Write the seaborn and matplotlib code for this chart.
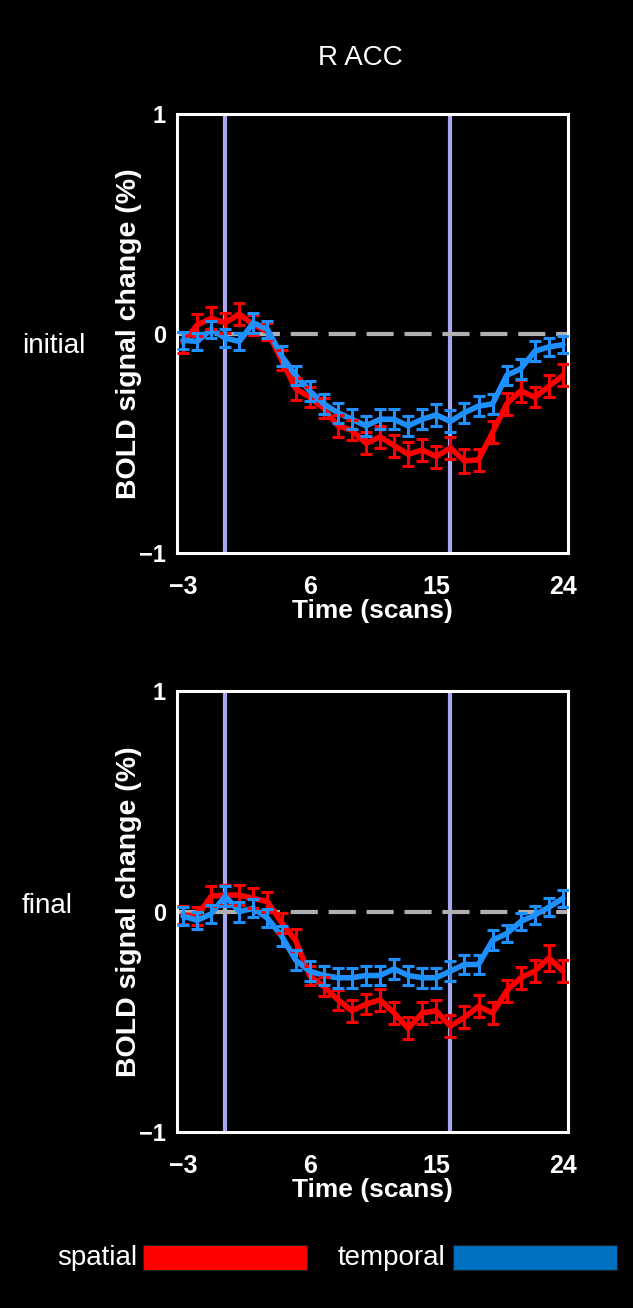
import matplotlib.pyplot as plt
import seaborn as sns
import numpy as np
import pandas as pd
from matplotlib.patches import Rectangle

# scans relative to block onset
scans = list(range(-3, 25))
onset, offset = 0, 16

# initial runs
init_spatial = [-0.04, 0.04, 0.07, 0.05, 0.09, 0.04, 0.01, -0.12, -0.25, -0.29,
                -0.34, -0.42, -0.44, -0.50, -0.47, -0.51, -0.55, -0.53, -0.56, -0.52,
                -0.58, -0.575, -0.45, -0.32, -0.26, -0.29, -0.24, -0.19]
init_spatial_err = [0.05, 0.05, 0.05, 0.045, 0.05, 0.045, 0.04, 0.045, 0.05, 0.045,
                    0.045, 0.05, 0.045, 0.05, 0.05, 0.05, 0.055, 0.05, 0.05, 0.05,
                    0.055, 0.05, 0.05, 0.05, 0.05, 0.045, 0.05, 0.05]
init_temporal = [-0.03, -0.035, 0.02, -0.02, -0.035, 0.05, 0.02, -0.10, -0.19, -0.26,
                 -0.32, -0.36, -0.39, -0.42, -0.39, -0.39, -0.42, -0.39, -0.37, -0.40,
                 -0.36, -0.33, -0.32, -0.19, -0.16, -0.08, -0.06, -0.05]
init_temporal_err = [0.04, 0.04, 0.04, 0.04, 0.04, 0.045, 0.04, 0.045, 0.045, 0.045,
                     0.045, 0.045, 0.045, 0.045, 0.045, 0.045, 0.045, 0.045, 0.05, 0.05,
                     0.045, 0.045, 0.045, 0.045, 0.045, 0.045, 0.04, 0.04]

# final runs
final_spatial = [-0.015, -0.02, 0.07, 0.075, 0.075, 0.06, 0.045, -0.05, -0.13, -0.29,
                 -0.34, -0.40, -0.45, -0.42, -0.40, -0.46, -0.53, -0.46, -0.45, -0.52,
                 -0.48, -0.43, -0.46, -0.36, -0.30, -0.27, -0.21, -0.27]
final_spatial_err = [0.04, 0.04, 0.045, 0.045, 0.045, 0.045, 0.045, 0.045, 0.05, 0.045,
                     0.045, 0.045, 0.05, 0.045, 0.05, 0.05, 0.05, 0.05, 0.05, 0.05,
                     0.05, 0.05, 0.05, 0.05, 0.05, 0.05, 0.06, 0.05]
final_temporal = [-0.02, -0.04, -0.01, 0.07, 0.0, 0.015, -0.03, -0.11, -0.22, -0.27,
                  -0.29, -0.30, -0.30, -0.29, -0.29, -0.26, -0.29, -0.30, -0.30, -0.27,
                  -0.24, -0.24, -0.13, -0.10, -0.045, -0.015, 0.02, 0.06]
final_temporal_err = [0.04, 0.04, 0.04, 0.045, 0.045, 0.04, 0.04, 0.045, 0.045, 0.045,
                      0.045, 0.045, 0.045, 0.045, 0.045, 0.045, 0.045, 0.045, 0.045, 0.045,
                      0.045, 0.045, 0.045, 0.04, 0.04, 0.04, 0.04, 0.04]

panel_labels = ['initial', 'final']
conditions = ['spatial', 'temporal']
line_colors = {'spatial': '#FF0000', 'temporal': '#1E90FF'}
legend_colors = {'spatial': '#FF0000', 'temporal': '#0070C0'}

sns.set_style('dark')
plt.rcParams['font.family'] = ['Liberation Sans', 'DejaVu Sans']
plt.rcParams['axes.unicode_minus'] = True

fig = plt.figure(figsize=(6.33, 13.08), dpi=100, facecolor='black')

panels = [
    (init_spatial, init_spatial_err, init_temporal, init_temporal_err),
    (final_spatial, final_spatial_err, final_temporal, final_temporal_err),
]
axes_pos = [[0.2796, 0.5772, 0.6177, 0.3353], [0.2796, 0.1346, 0.6177, 0.3369]]

for i, (sp, sp_err, tp, tp_err) in enumerate(panels):
    ax = fig.add_axes(axes_pos[i])
    ax.set_facecolor('black')

    df = pd.DataFrame({
        'scan': scans * 2,
        'bold': sp + tp,
        'err': sp_err + tp_err,
        'condition': ['spatial'] * len(scans) + ['temporal'] * len(scans),
    })

    # onset / offset markers and baseline
    for v in (onset, offset):
        ax.axvline(v, color='#A8A8F0', lw=3, zorder=1)
    ax.axhline(0, color='#B0B0B0', lw=3, dashes=(6.5, 2.6), zorder=1)

    sns.lineplot(data=df, x='scan', y='bold', hue='condition', palette=line_colors,
                 errorbar=None, linewidth=4, legend=False, ax=ax, zorder=3)
    for cond in conditions:
        sub = df[df['condition'] == cond]
        ax.errorbar(sub['scan'], sub['bold'], yerr=sub['err'], fmt='none',
                    ecolor=line_colors[cond], elinewidth=2.2, capsize=4.5,
                    capthick=2.2, zorder=3)

    ax.set_xlim(-3.43, 24.36)
    ax.set_ylim(-1, 1)
    ax.set_xticks([-3, 6, 15, 24])
    ax.set_yticks([-1, 0, 1])
    ax.grid(False)
    for s in ax.spines.values():
        s.set_visible(True)
        s.set_color('white')
        s.set_linewidth(2.2)
    ax.tick_params(axis='x', colors='white', direction='out', length=2, width=2,
                   pad=14, labelsize=18)
    ax.tick_params(axis='y', colors='white', direction='out', length=4, width=2,
                   pad=4, labelsize=17)
    for lab in ax.get_xticklabels() + ax.get_yticklabels():
        lab.set_fontweight('bold')

    ax.set_xlabel('Time (scans)', color='white', fontsize=19, fontweight='bold',
                  labelpad=0)
    ax.set_ylabel('BOLD signal change (%)', color='white', fontsize=20.5,
                  fontweight='bold')
    ax.yaxis.set_label_coords(-0.09, 0.5)

    y0 = 346 if i == 0 else 906
    fig.text(22 / 633, 1 - y0 / 1308, panel_labels[i], color='white', fontsize=20,
             ha='left', va='center')

fig.text(360 / 633, 1 - 58 / 1308, 'R ACC', color='white', fontsize=20,
         ha='center', va='center')

# colour key at the bottom
key = [('spatial', 137, 143), ('temporal', 445, 453)]
for cond, text_right, rect_left in key:
    fig.text(text_right / 633, 1 - 1258 / 1308, cond, color='white', fontsize=20,
             ha='right', va='center')
    fig.add_artist(Rectangle((rect_left / 633, 1 - 1270 / 1308), 164 / 633, 25 / 1308,
                             transform=fig.transFigure, facecolor=legend_colors[cond],
                             edgecolor='#202020', lw=0.8))

fig.savefig('out.png', dpi=100, facecolor='black')
